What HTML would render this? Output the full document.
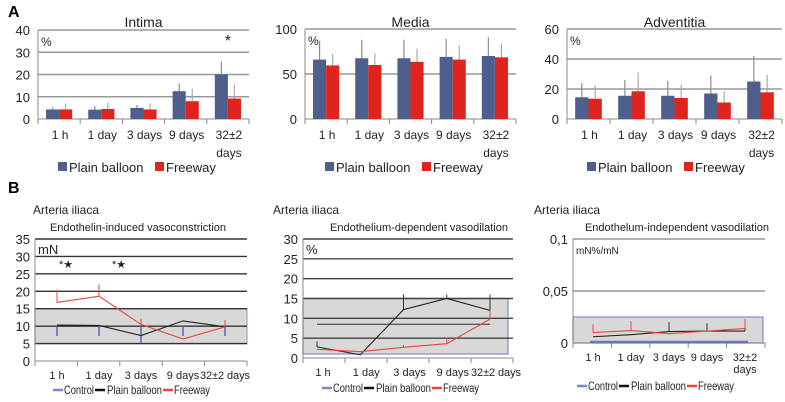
<!DOCTYPE html>
<html><head><meta charset="utf-8"><style>
body{margin:0;background:#fff}
svg{display:block;font-family:"Liberation Sans",sans-serif}
</style></head><body>
<svg id="c" width="785" height="402" viewBox="0 0 785 402">
<text x="8" y="17" font-size="16" font-weight="bold">A</text>
<text x="8" y="193" font-size="16" font-weight="bold">B</text>
</svg>
<script>
const barCats = ["1 h","1 day","3 days","9 days","32±2"];
const intimaPlain = [4.3,4.2,5,12.5,20];
const intimaFree = [4.3,4.5,4.3,8,9.2];
const intimaPlainErr = [5.3,5.8,6.3,16,25.8];
const intimaFreeErr = [7,7.5,7,13.5,15.5];
const intimaTicks = [0,10,20,30,40];
const mediaPlain = [66,67.5,67.5,69,70];
const mediaFree = [59.5,60,63.5,66,68.5];
const mediaPlainErr = [87,88,88,89,91];
const mediaFreeErr = [72,73,78,82,84];
const mediaTicks = [0,50,100];
const advPlain = [14.5,15.5,15.5,17,25];
const advFree = [13.5,18.5,14,11,17.8];
const advPlainErr = [24,26,25.5,29,42];
const advFreeErr = [22.5,31,23,18.5,29.5];
const advTicks = [0,20,40,60];

const lineCats = ["1 h","1 day","3 days","9 days","32±2 days"];
const vcPlain = [10.3,10.2,7.3,11.5,9.8];
const vcFree = [16.8,18.6,10.5,6.3,9.8];
const vcFreeErr = [20.4,22,12.2,6.3,11.7];
const vcCtrlErr = [7.2,7.2,5.2,7.2,7.2];
const vcTicks = [0,5,10,15,20,25,30,35];
const edPlain = [2.8,0.8,12.2,15,12];
const edFree = [2.2,1.6,2.7,3.6,9.8];
const edPlainErr = [4.2,0.8,16,16,16];
const edFreeErr = [2.2,1.6,3.2,5.2,12];
const edTicks = [0,5,10,15,20,25,30];
const eiPlain = [0.006,0.008,0.011,0.0115,0.0115];
const eiFree = [0.010,0.012,0.009,0.0115,0.014];
const eiPlainErr = [0.006,0.008,0.020,0.019,0.023];
const eiFreeErr = [0.018,0.021,0.009,0.0115,0.023];
const eiTicks = [0,0.05,0.1];

const svg = document.getElementById('c');
const NS = "http://www.w3.org/2000/svg";
function mk(tag, attrs, parent){
  const e = document.createElementNS(NS, tag);
  for (const k in attrs) e.setAttribute(k, attrs[k]);
  (parent||svg).appendChild(e);
  return e;
}
function txt(x,y,s,size,anchor,parent,fill){
  const t = mk('text',{x:x,y:y,'font-size':size,'text-anchor':anchor||'start',fill:fill||'#222'},parent);
  t.textContent = s; return t;
}

function barChart(name,x0,x1,yTop,yBot,max,ticks,title,pl,fr,ple,fre,star){
  const g = mk('g',{});
  
  
  const Y = v => yBot - (v/max)*(yBot-yTop);
  const gw = (x1-x0)/barCats.length;
  const X = i => x0 + gw*(i+0.5);
  ticks.forEach(t=>{
    if(t>0){ const l = mk('line',{x1:x0,x2:x1,y1:Y(t),y2:Y(t),stroke:'#999','stroke-width':1.6},g);
        }
    const tl = txt(x0-8,Y(t)+5,String(t),13,'end',g);
     
  });
  mk('line',{x1:x0,x2:x0,y1:yTop,y2:yBot+4,stroke:'#888'},g);
  mk('line',{x1:x0,x2:x1,y1:yBot,y2:yBot,stroke:'#888'},g);
  for(let i=0;i<=barCats.length;i++) mk('line',{x1:x0+gw*i,x2:x0+gw*i,y1:yBot,y2:yBot+5,stroke:'#888'},g);
  const bw = gw*0.31;
  pl.forEach((v,i)=>{
    mk('line',{x1:X(i)-bw/2,x2:X(i)-bw/2,y1:Y(ple[i]),y2:Y(v),stroke:'#8a8a9a','stroke-width':1.2},g);
    const b = mk('rect',{x:X(i)-bw,y:Y(v),width:bw,height:yBot-Y(v),fill:'#4e5f8e'},g);
     
  });
  fr.forEach((v,i)=>{
    mk('line',{x1:X(i)+bw/2,x2:X(i)+bw/2,y1:Y(fre[i]),y2:Y(v),stroke:'#aaa','stroke-width':1.2},g);
    const b = mk('rect',{x:X(i),y:Y(v),width:bw,height:yBot-Y(v),fill:'#e0231c'},g);
     
  });
  barCats.forEach((c,i)=>{
    const t = txt(X(i)+1,yBot+20,c,12,'middle',g);
     
  });
  txt(X(4)+1,yBot+38,'days',12,'middle',g);
  const tt = txt((x0+x1)/2,27,title,14,'middle',g);
   
  txt(x0+3,yTop+16,'%',12,'start',g);
  if(star) txt(X(4),yTop+16,'*',16,'middle',g);
  const lx = x0+20;
  mk('rect',{x:lx,y:162,width:9,height:9,fill:'#4e5f8e'},g);
  const l1 = txt(lx+11,172,'Plain balloon',13,'start',g);
   
  mk('rect',{x:lx+97,y:162,width:9,height:9,fill:'#e0231c'},g);
  const l2 = txt(lx+108,172,'Freeway',13,'start',g);
   
}
barChart('intima-chart',38,249,30,119,40,intimaTicks,'Intima',intimaPlain,intimaFree,intimaPlainErr,intimaFreeErr,true);
barChart('media-chart',305,516,29,119,100,mediaTicks,'Media',mediaPlain,mediaFree,mediaPlainErr,mediaFreeErr,false);
barChart('adventitia-chart',567,782,29,119,60,advTicks,'Adventitia',advPlain,advFree,advPlainErr,advFreeErr,false);

function lineChart(o){
  const g = mk('g',{});
  
  
  const Y = v => o.yBot - (v/o.max)*(o.yBot-o.yTop);
  const X = i => o.px[0] + (o.px[1]-o.px[0])*i/4;
  txt(o.x0-2+ (o.aLeft||0),214,'Arteria iliaca',12,'start',g);
  const tt = txt(o.titleX,231,o.title,11,'middle',g);
   
  const band = mk('rect',{x:o.x0,y:Y(o.band[1]),width:o.bandR-o.x0,height:Y(o.band[0])-Y(o.band[1]),fill:'#d8d8d8',stroke:o.bandStroke,'stroke-width':1.3},g);
   
  o.ticks.forEach(t=>{
    if(t>0){
      const l = mk('line',{x1:o.x0,x2:o.x1,y1:Y(t),y2:Y(t),stroke:o.gridC,'stroke-width':1.4},g);
       
    }
    const tl = txt(o.x0-5,Y(t)+5,o.fmt(t),13,'end',g);
     
  });
  mk('line',{x1:o.x0,x2:o.x0,y1:o.yTop,y2:o.yBot,stroke:'#888'},g);
  mk('line',{x1:o.x0,x2:o.x1,y1:o.yBot,y2:o.yBot,stroke:'#888'},g);
  for(let i=0;i<=5;i++){const xx=o.x0+(o.x1-o.x0)*i/5; mk('line',{x1:xx,x2:xx,y1:o.yBot,y2:o.yBot+5,stroke:'#888'},g);}
  if(o.extra) o.extra(g,X,Y);
  o.plainErr.forEach((v,i)=>{ if(v!==o.plain[i]) mk('line',{x1:X(i),x2:X(i),y1:Y(v),y2:Y(o.plain[i]),stroke:'#333'},g);});
  o.freeErr.forEach((v,i)=>{ if(v!==o.free[i]) mk('line',{x1:X(i),x2:X(i),y1:Y(v),y2:Y(o.free[i]),stroke:'#e8463c'},g);});
  const pp = o.plain.map((v,i)=>X(i)+','+Y(v)).join(' ');
  const p1 = mk('polyline',{points:pp,fill:'none',stroke:'#222','stroke-width':1.1},g);
   
  const fp = o.free.map((v,i)=>X(i)+','+Y(v)).join(' ');
  const p2 = mk('polyline',{points:fp,fill:'none',stroke:'#e8463c','stroke-width':1.1},g);
   
  txt(o.x0+3,o.yTop+15,o.unit,o.unitSize||13,'start',g);
  lineCats.forEach((c,i)=>{
    const cx = X(i)+(o.labOff||0);
    let s=c; if(o.wrap && i===4) s='32±2';
    const t = txt(cx,o.yBot+18,s,11,'middle',g);
    if(!o.wrap && i===4) t.setAttribute('textLength','50');
     
  });
  if(o.wrap) txt(X(4),o.yBot+30,'days',11,'middle',g);
  const ly=o.legY, lx=o.legX;
  mk('line',{x1:lx,x2:lx+10,y1:ly-4,y2:ly-4,stroke:'#7a86c8','stroke-width':2.5},g);
  const a=txt(lx+11,ly,'Control',12,'start',g); a.setAttribute('textLength','30'); a.setAttribute('lengthAdjust','spacingAndGlyphs');
   
  mk('line',{x1:lx+42,x2:lx+52,y1:ly-4,y2:ly-4,stroke:'#111','stroke-width':2.5},g);
  const b=txt(lx+54,ly,'Plain balloon',12,'start',g); b.setAttribute('textLength','55'); b.setAttribute('lengthAdjust','spacingAndGlyphs');
   
  mk('line',{x1:lx+110,x2:lx+120,y1:ly-4,y2:ly-4,stroke:'#e8463c','stroke-width':2.5},g);
  const c=txt(lx+121,ly,'Freeway',12,'start',g); c.setAttribute('textLength','36'); c.setAttribute('lengthAdjust','spacingAndGlyphs');
   
}
lineChart({name:'vasoconstriction-chart',x0:35,x1:247,bandR:247,yTop:239,yBot:361,max:35,ticks:vcTicks,fmt:t=>String(t),
  band:[5,15],bandStroke:'#a8a8c8',gridC:'#333',px:[57,225],plain:vcPlain,free:vcFree,plainErr:vcPlain,freeErr:vcFreeErr,
  title:'Endothelin-induced vasoconstriction',titleX:138,unit:'mN',legY:394,legX:53,
  extra:(g,X,Y)=>{vcCtrlErr.forEach((v,i)=>mk('line',{x1:X(i),x2:X(i),y1:Y(v),y2:Y(10),stroke:'#5a66b8','stroke-width':1.5},g));
    txt(59,268,'*★',11,'start',g); txt(112,268,'*★',11,'start',g);}});
lineChart({name:'endothelium-dependent-chart',x0:303,x1:513,bandR:508,yTop:239,yBot:358,max:30,ticks:edTicks,fmt:t=>String(t),
  band:[1,15],bandStroke:'#8a94c8',gridC:'#444',px:[317,490],plain:edPlain,free:edFree,plainErr:edPlainErr,freeErr:edFreeErr,
  title:'Endothelium-dependent vasodilation',titleX:419,unit:'%',legY:392,legX:322,aLeft:-28,labOff:6,
  extra:(g,X,Y)=>{mk('line',{x1:X(0),x2:X(4),y1:Y(8.5),y2:Y(8.5),stroke:'#333'},g);}});
lineChart({name:'endothelium-independent-chart',x0:573,x1:765,bandR:763,yTop:239,yBot:343,max:0.1,ticks:eiTicks,fmt:t=>t===0?'0':String(t).replace('.',','),
  band:[0,0.025],bandStroke:'#8a94c8',gridC:'#999',px:[593,745],plain:eiPlain,free:eiFree,plainErr:eiPlainErr,freeErr:eiFreeErr,
  title:'Endothelum-independent vasodilation',titleX:677,unit:'mN%/mN',unitSize:10,legY:390,legX:577,wrap:true,aLeft:-37,
  extra:(g,X,Y)=>{mk('line',{x1:X(0)-3,x2:X(4)+3,y1:Y(0)-1,y2:Y(0)-1,stroke:'#6a76c0','stroke-width':2.5},g);}});
</script>
</body></html>
